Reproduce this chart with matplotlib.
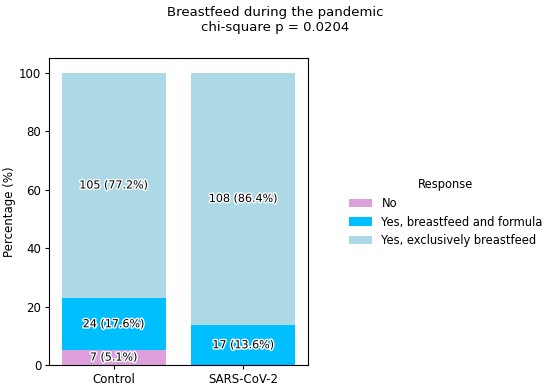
import matplotlib
matplotlib.use("Agg")
import matplotlib.pyplot as plt
import matplotlib.patheffects as pe
import numpy as np

groups = ["Control", "SARS-CoV-2"]
responses = ["No", "Yes, breastfeed and formula", "Yes, exclusively breastfeed"]
counts = {
    "No": [7, 0],
    "Yes, breastfeed and formula": [24, 17],
    "Yes, exclusively breastfeed": [105, 108],
}
colors = ["#DDA0DD", "#00BFFF", "#ADD8E6"]

totals = np.sum([counts[r] for r in responses], axis=0)

fig = plt.figure(figsize=(5.5, 3.86), dpi=100)
ax = fig.add_axes([0.089, 0.054, 0.471, 0.796])

x = np.arange(len(groups))
bottom = np.zeros(len(groups))
for r, c in zip(responses, colors):
    vals = np.array(counts[r], dtype=float)
    pct = vals / totals * 100
    ax.bar(x, pct, 0.8, bottom=bottom, color=c, label=r)
    for i in range(len(groups)):
        if vals[i] > 0:
            t = ax.text(x[i], bottom[i] + pct[i] / 2, f"{int(vals[i])} ({pct[i]:.1f}%)",
                        ha="center", va="center", fontsize=8, color="black")
            t.set_path_effects([pe.withStroke(linewidth=2, foreground="white")])
    bottom += pct

ax.set_xticks(x)
ax.set_xticklabels(groups, fontsize=8.5)
ax.tick_params(axis="both", labelsize=8.5, length=3, pad=2.5)
ax.set_xlim(-0.5, 1.5)
ax.set_ylim(0, 105)
ax.set_ylabel("Percentage (%)", fontsize=8.5, labelpad=2)
ax.set_yticks([0, 20, 40, 60, 80, 100])

fig.suptitle("Breastfeed during the pandemic\nchi-square p = 0.0204", fontsize=9.5, y=0.985)

leg = fig.legend(title="Response", loc="center left", bbox_to_anchor=(0.616, 0.449),
                 frameon=False, fontsize=8.3, title_fontsize=8.3)

fig.savefig("out.png", dpi=100)
